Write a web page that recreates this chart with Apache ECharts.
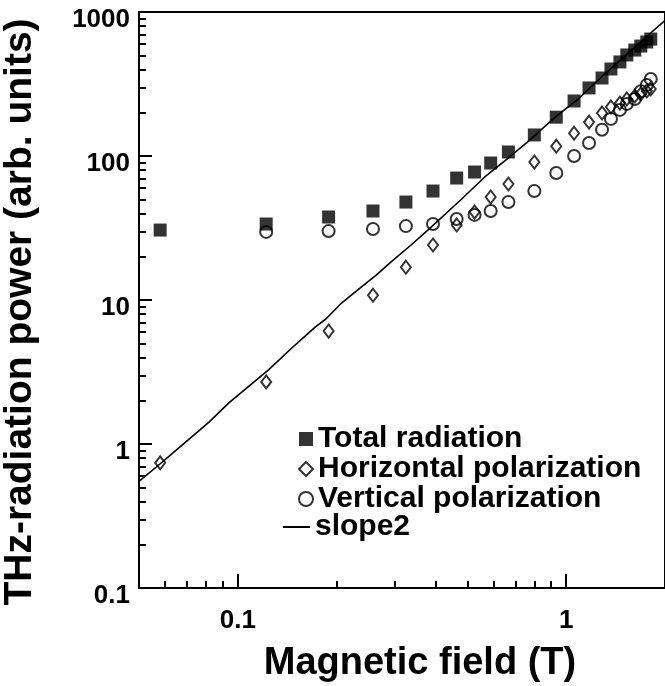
<!DOCTYPE html>
<html>
<head>
<meta charset="utf-8">
<script src="https://cdn.jsdelivr.net/npm/echarts@6/dist/echarts.min.js"></script>
<style>
  html, body { margin: 0; padding: 0; background: #fff; }
  #chart { width: 665px; height: 686px; }
</style>
</head>
<body>
<div id="chart"></div>
<script>
// Magnetic field (T) of each measurement
const fieldT = [0.058, 0.122, 0.189, 0.258, 0.325, 0.393, 0.464, 0.526, 0.589, 0.667, 0.80,
                0.933, 1.057, 1.174, 1.286, 1.369, 1.458, 1.530, 1.618, 1.688, 1.760, 1.810];
// THz-radiation power (arb. units)
const totalRadiation = [30.6, 33.7, 37.7, 41.5, 47.9, 57.1, 70.3, 77.4, 89.4, 106.6, 140,
                        186, 241, 297, 348, 402, 450, 503, 544, 580, 619, 649];
const horizontalPol = [0.74, 2.70, 6.09, 10.8, 16.9, 24.1, 33.2, 40.8, 51.9, 63.9, 90.8,
                       117, 144, 172, 199, 219, 233, 249, 261, 270, 283, 292];
// first field point has no separate vertical reading
const verticalPol = ['-', 29.7, 30.1, 31.1, 32.6, 33.7, 36.5, 39.0, 41.5, 47.9, 57.1,
                     76.2, 100, 123, 152, 181, 209, 230, 249, 282, 311, 343];
// Reference line with slope 2
const slopeField = [0.05, 0.0584, 0.0649, 0.0817, 0.0939, 0.124, 0.146, 0.172, 0.185, 0.207,
                    0.2375, 0.264, 0.293, 0.337, 0.379, 0.477, 0.565, 0.672, 0.762, 0.920,
                    1.08, 1.30, 1.607, 1.927, 2.1];
const slopePower = [0.55, 0.738, 0.908, 1.42, 1.93, 3.27, 4.64, 6.49, 7.35, 9.53,
                    12.3, 14.9, 18.4, 24.1, 30.6, 49.5, 71.5, 98.4, 125, 184,
                    245, 365, 562, 812, 960];

// Axis ticks
const xMajorTicks = [0.1, 1];
const xMinorTicks = [0.06, 0.07, 0.08, 0.09, 0.2, 0.3, 0.4, 0.5, 0.6, 0.7, 0.8, 0.9, 2];
const yMajorTicks = [0.1, 1, 10, 100, 1000];
const yMinorTicks = [];
[0.1, 1, 10, 100].forEach(function (d) {
  for (let k = 2; k <= 9; k++) yMinorTicks.push(+(d * k).toPrecision(3));
});

const FONT = "'Liberation Sans', Arial, Helvetica, sans-serif";
const X_MIN = 0.05, X_MAX = 2, Y_MIN = 0.1, Y_MAX = 1000;

function pairs(xs, ys) {
  const out = [];
  xs.forEach(function (x, i) { if (ys[i] !== '-') out.push([x, ys[i]]); });
  return out;
}

const gridRect = { left: 139, top: 12, right: -4, bottom: 98 };
const tickLine = { color: '#000', width: 2 };
const legendText = { fontFamily: FONT, fontWeight: 'bold', fontSize: 30, lineHeight: 30, color: '#000' };

const chart = echarts.init(document.getElementById('chart'), null, { renderer: 'canvas' });

chart.setOption({
  animation: false,
  backgroundColor: '#fff',
  grid: [
    Object.assign({ show: true, borderColor: '#000', borderWidth: 2, backgroundColor: 'transparent' }, gridRect),
    Object.assign({ show: false }, gridRect)
  ],
  xAxis: [
    {
      gridIndex: 0, type: 'log', logBase: 10, min: X_MIN, max: X_MAX,
      axisLine: { show: true, onZero: false, lineStyle: tickLine },
      axisTick: { show: true, inside: true, length: 14, lineStyle: tickLine, customValues: xMajorTicks },
      axisLabel: {
        customValues: xMajorTicks, margin: 20,
        fontFamily: FONT, fontWeight: 'bold', fontSize: 26, color: '#000',
        formatter: function (v) { return String(v); }
      },
      splitLine: { show: false }
    },
    {
      gridIndex: 1, type: 'log', logBase: 10, min: X_MIN, max: X_MAX,
      axisLine: { show: false },
      axisTick: { show: true, inside: true, length: 7, lineStyle: tickLine, customValues: xMinorTicks },
      axisLabel: { show: false }, splitLine: { show: false }
    }
  ],
  yAxis: [
    {
      gridIndex: 0, type: 'log', logBase: 10, min: Y_MIN, max: Y_MAX,
      axisLine: { show: true, onZero: false, lineStyle: tickLine },
      axisTick: { show: true, inside: true, length: 13, lineStyle: tickLine, customValues: yMajorTicks },
      axisLabel: {
        customValues: yMajorTicks, margin: 9, verticalAlign: 'top', lineHeight: 16,
        fontFamily: FONT, fontWeight: 'bold', fontSize: 26, color: '#000',
        formatter: function (v) { return String(v); }
      },
      splitLine: { show: false }
    },
    {
      gridIndex: 1, type: 'log', logBase: 10, min: Y_MIN, max: Y_MAX,
      axisLine: { show: false },
      axisTick: { show: true, inside: true, length: 7, lineStyle: tickLine, customValues: yMinorTicks },
      axisLabel: { show: false }, splitLine: { show: false }
    }
  ],
  legend: [
    {
      orient: 'vertical', left: 293, top: 419, itemGap: 0,
      itemWidth: 14, itemHeight: 14,
      textStyle: legendText,
      data: ['Total radiation', 'Horizontal polarization', 'Vertical polarization'],
      selectedMode: false
    },
    {
      orient: 'vertical', left: 278, top: 507, itemGap: 0,
      itemWidth: 27, itemHeight: 2,
      textStyle: legendText,
      data: [{ name: 'slope2', icon: 'rect' }],
      selectedMode: false
    }
  ],
  graphic: [
    {
      type: 'text', x: 420, y: 664,
      style: {
        text: 'Magnetic field (T)', fill: '#000',
        font: 'bold 38px ' + FONT, textAlign: 'center', textVerticalAlign: 'middle'
      }
    },
    {
      type: 'text', x: 20, y: 312, rotation: Math.PI / 2,
      style: {
        text: 'THz-radiation power (arb. units)', fill: '#000',
        font: 'bold 39px ' + FONT, textAlign: 'center', textVerticalAlign: 'middle'
      }
    }
  ],
  series: [
    {
      name: 'slope2', type: 'line', xAxisIndex: 0, yAxisIndex: 0,
      data: pairs(slopeField, slopePower),
      showSymbol: false, symbol: 'none', smooth: false, clip: true,
      lineStyle: { color: '#000', width: 1.6 }, itemStyle: { color: '#000' }, z: 2
    },
    {
      name: 'Horizontal polarization', type: 'scatter', xAxisIndex: 0, yAxisIndex: 0,
      data: pairs(fieldT, horizontalPol),
      symbol: 'diamond', symbolSize: [10, 13],
      itemStyle: { color: 'rgba(0,0,0,0)', borderColor: '#000', borderWidth: 2 }, z: 3
    },
    {
      name: 'Vertical polarization', type: 'scatter', xAxisIndex: 0, yAxisIndex: 0,
      data: pairs(fieldT, verticalPol),
      symbol: 'circle', symbolSize: 12,
      itemStyle: { color: 'rgba(0,0,0,0)', borderColor: '#000', borderWidth: 2 }, z: 3
    },
    {
      name: 'Total radiation', type: 'scatter', xAxisIndex: 0, yAxisIndex: 0,
      data: pairs(fieldT, totalRadiation),
      symbol: 'rect', symbolSize: 13,
      itemStyle: { color: '#000' }, z: 4
    }
  ]
});
</script>
</body>
</html>
